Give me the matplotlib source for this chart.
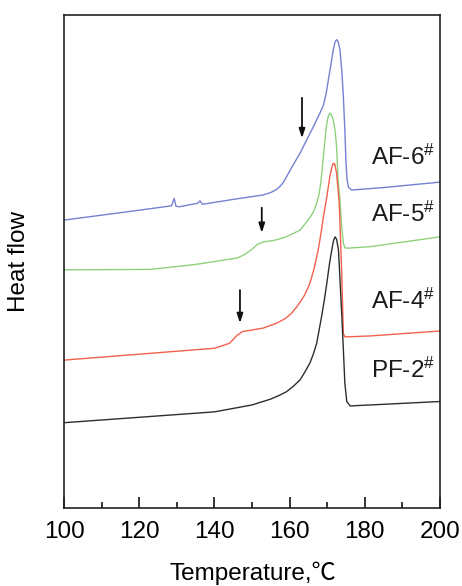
import matplotlib
matplotlib.use("Agg")
import matplotlib.pyplot as plt
from matplotlib.ticker import MultipleLocator

plt.rcParams['font.family'] = ['Liberation Sans', 'Noto Sans CJK SC', 'DejaVu Sans']
plt.rcParams['mathtext.fontset'] = 'custom'
plt.rcParams['mathtext.rm'] = 'Liberation Sans'
plt.rcParams['mathtext.it'] = 'Liberation Sans'

# ---- data (temperature in °C, heat flow in arbitrary units) ----
af6_T = [100, 110, 120, 128.6, 129.3, 129.8, 130.6, 135.5, 136.2, 136.8, 145, 153, 155,
         156.5, 157.4, 158.3, 159.2, 160.5, 162.8, 164.5, 166.3, 168.0, 169.0, 169.7,
         170.3, 171.0, 171.6, 172.1, 172.5, 172.9, 173.4, 173.9, 174.3, 174.7, 175.0,
         175.3, 175.7, 176.5, 185, 200]
af6_H = [58.4, 59.4, 60.4, 61.3, 62.8, 61.2, 61.1, 61.8, 62.3, 61.6, 62.6, 63.5, 64.0,
         64.6, 65.2, 66.0, 67.2, 69.0, 72.0, 74.6, 77.3, 80.0, 81.7, 84.0,
         86.8, 90.0, 92.9, 94.6, 95.0, 94.6, 92.9, 88.5, 83.4, 76.5, 70.0,
         66.5, 65.0, 64.5, 65.0, 66.1]

af5_T = [100, 123, 135, 146, 148, 149.7, 151.5, 153.2, 156, 158.3, 160.5, 162.8, 164.5,
         165.5, 166.3, 167.2, 167.8, 168.3, 168.7, 169.0, 169.5, 169.9, 170.3, 170.7,
         171.1, 171.6, 172.1, 172.5, 172.9, 173.4, 173.8, 174.3, 174.7, 175.2, 181.4, 200]
af5_H = [48.3, 48.4, 49.4, 50.7, 51.4, 52.3, 53.5, 54.0, 54.3, 54.8, 55.5, 56.4, 58.0,
         59.0, 60.0, 61.8, 63.5, 66.0, 69.0, 71.3, 75.5, 78.0, 79.5, 80.1,
         79.8, 78.7, 76.5, 73.3, 66.5, 62.5, 57.5, 53.7, 52.8, 52.7, 53.0, 55.0]

af4_T = [100, 120, 140, 144, 146, 147.5, 150, 153, 156.6, 159, 160.5, 161.9, 163, 164,
         165.4, 166.5, 167.6, 168.4, 169.0, 169.9, 170.7, 171.2, 171.6, 172.0, 172.5,
         173.2, 173.5, 173.8, 174.1, 174.3, 174.7, 181.4, 200]
af4_H = [30.0, 31.2, 32.4, 33.4, 35.0, 35.8, 36.1, 36.5, 37.5, 38.5, 39.5, 40.8, 42.0, 43.2,
         45.6, 48.5, 52.3, 56.0, 59.1, 63.1, 67.2, 69.0, 69.9, 69.8, 67.9,
         61.8, 55.5, 48.9, 41.0, 35.4, 34.7, 34.9, 35.9]

pf2_T = [100, 120, 140, 150, 155, 157.4, 159.2, 161, 162.8, 164, 165.4, 166.3, 167.2,
         168.5, 169.2, 169.9, 170.6, 171.2, 171.7, 172.1, 172.5, 173.0, 173.9, 174.7,
         175.2, 176.1, 181.4, 200]
pf2_H = [17.3, 18.4, 19.5, 20.9, 22.1, 22.9, 23.6, 24.7, 26.0, 27.5, 29.4, 31.2, 33.4,
         38.8, 42.0, 45.6, 49.5, 52.3, 54.3, 55.0, 54.5, 52.3, 38.8, 25.3,
         21.6, 20.7, 20.9, 21.6]

labels = [r"AF-6$^{\#}$", r"AF-5$^{\#}$", r"AF-4$^{\#}$", r"PF-2$^{\#}$"]
label_H = [69.6, 58.1, 40.3, 26.3]

# arrows: (temperature, start height, tip height)
arrow_T = [163.3, 152.6, 146.8]
arrow_top = [83.2, 60.9, 44.2]
arrow_tip = [75.0, 55.8, 37.5]

xticks = [100, 120, 140, 160, 180, 200]

# ---- plot ----
fig = plt.figure(figsize=(4.62, 5.86), dpi=100)
ax = fig.add_axes([64/462, 78/586, 376/462, 493/586])

ax.plot(af6_T, af6_H, color='#7482d2', lw=1.0)
ax.plot(af5_T, af5_H, color='#8fd07c', lw=1.0)
ax.plot(af4_T, af4_H, color='#f2604e', lw=1.0)
ax.plot(pf2_T, pf2_H, color='#2e2e2e', lw=1.0)

for lab, h in zip(labels, label_H):
    ax.text(198.6, h, lab, ha='right', va='baseline', fontsize=17.5, color='#1a1a1a')

for t, a, b in zip(arrow_T, arrow_top, arrow_tip):
    ax.annotate('', xy=(t, b), xytext=(t, a),
                arrowprops=dict(arrowstyle='-|>,head_width=0.18,head_length=0.55',
                                color='#111111', lw=1.3, shrinkA=0, shrinkB=0))

ax.set_xlim(100, 200)
ax.set_ylim(0, 100)
ax.set_xticks(xticks)
ax.set_xticklabels([str(v) for v in xticks])
ax.xaxis.set_minor_locator(MultipleLocator(10))
ax.tick_params(axis='x', which='major', direction='in', length=8, width=1.1,
               labelsize=17.5, pad=9, top=False)
ax.tick_params(axis='x', which='minor', direction='in', length=4.5, width=1.1, top=False)
ax.set_yticks([])
for s in ax.spines.values():
    s.set_linewidth(1.2)
    s.set_color('#222222')

fig.text(19/462, 1 - 262/586, 'Heat flow', rotation=90, ha='center', va='center', fontsize=17.5)
fig.text(253/462, 1 - 573/586, 'Temperature,℃', ha='center', va='center', fontsize=17.5)

fig.savefig('out.png', dpi=100)
